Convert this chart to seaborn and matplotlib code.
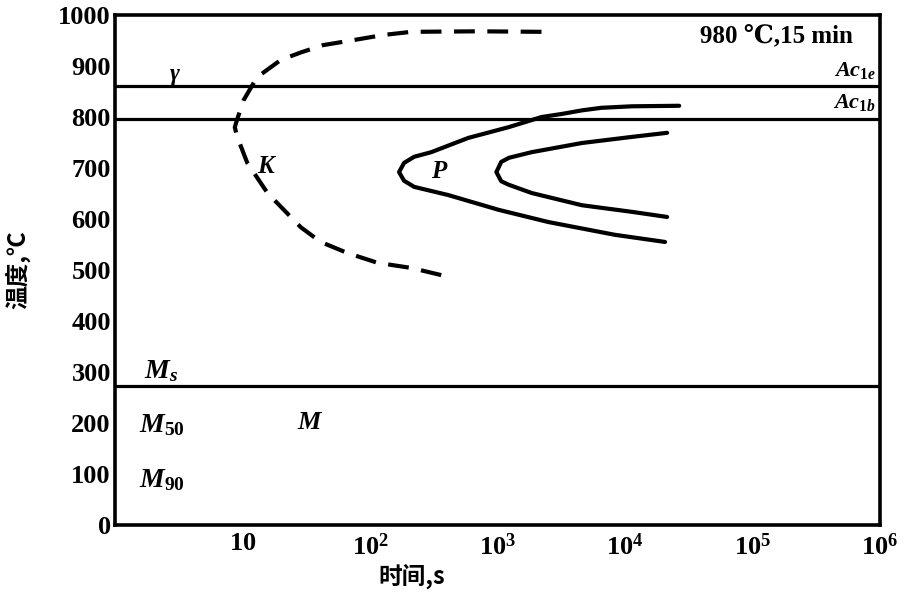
import matplotlib
matplotlib.use("Agg")
import matplotlib.pyplot as plt
import seaborn as sns
import pandas as pd

# ---------------- data ----------------
# dashed K curve (lower branch -> nose -> upper branch)
k_time = [362, 211, 115, 67, 41, 28.6, 15.7, 10.9, 9.1, 8.7, 9.1, 10.2, 13, 20, 29, 43, 75, 129, 211, 700, 2220]
k_temp = [490, 504, 514, 533, 555, 584, 651, 710, 761, 780, 796, 833, 878, 912, 927, 941, 951, 961, 967, 968, 967]

# pearlite start (outer C curve)
ps_time = [26600, 11350, 6500, 4590, 3200, 2220, 1220, 590, 302, 222, 185, 169, 185, 222, 410, 1020, 2510, 8330, 20600]
ps_temp = [822, 821, 818, 813, 806, 800, 780, 759, 731, 722, 710, 692, 675, 663, 647, 618, 594, 569, 555]

# pearlite end (inner C curve)
pe_time = [21400, 11350, 4590, 1850, 1230, 1070, 980, 1070, 1230, 1850, 4590, 11350, 21400]
pe_temp = [769, 761, 749, 731, 720, 712, 692, 674, 667, 651, 627, 614, 604]

# critical temperatures
ac1e = 860
ac1b = 797
ms = 272

x_ticks = [10, 1e2, 1e3, 1e4, 1e5, 1e6]
x_ticklabels = [r"$\mathrm{10}$", r"$\mathrm{10^{2}}$", r"$\mathrm{10^{3}}$",
                r"$\mathrm{10^{4}}$", r"$\mathrm{10^{5}}$", r"$\mathrm{10^{6}}$"]
y_ticks = [0, 100, 200, 300, 400, 500, 600, 700, 800, 900, 1000]
y_ticklabels = ["0", "100", "200", "300", "400", "500", "600", "700", "800", "900", "1000"]

# ---------------- style ----------------
sns.set_style("white")
plt.rcParams["font.family"] = ["Liberation Serif", "DejaVu Serif", "Noto Sans CJK SC"]
plt.rcParams["text.color"] = "black"
plt.rcParams["axes.labelcolor"] = "black"
plt.rcParams["xtick.color"] = "black"
plt.rcParams["ytick.color"] = "black"
plt.rcParams["mathtext.fontset"] = "custom"
plt.rcParams["mathtext.rm"] = "Liberation Serif:bold"
plt.rcParams["mathtext.it"] = "Liberation Serif:italic:bold"
plt.rcParams["mathtext.bf"] = "Liberation Serif:bold"

fig = plt.figure(figsize=(9.21, 6.04), dpi=100)
ax = fig.add_axes([115 / 921, 1 - 525 / 604, 765 / 921, 510 / 604])

lw_curve = 3.0
df_k = pd.DataFrame({"time": k_time, "temp": k_temp})
df_ps = pd.DataFrame({"time": ps_time, "temp": ps_temp})
df_pe = pd.DataFrame({"time": pe_time, "temp": pe_temp})

sns.lineplot(data=df_k, x="time", y="temp", sort=False, estimator=None, ax=ax,
             color="black", lw=lw_curve, linestyle=(0, (5, 3)))
sns.lineplot(data=df_ps, x="time", y="temp", sort=False, estimator=None, ax=ax,
             color="black", lw=lw_curve, solid_capstyle="round", solid_joinstyle="round")
sns.lineplot(data=df_pe, x="time", y="temp", sort=False, estimator=None, ax=ax,
             color="black", lw=lw_curve, solid_capstyle="round", solid_joinstyle="round")

for level in (ac1e, ac1b, ms):
    ax.axhline(level, color="black", lw=2.3)

ax.set_xscale("log")
ax.set_xlim(1, 1e6)
ax.set_ylim(0, 1000)
ax.minorticks_off()
ax.set_xticks(x_ticks)
ax.set_xticklabels(x_ticklabels, fontsize=19)
ax.set_yticks(y_ticks)
ax.set_yticklabels(y_ticklabels, fontsize=19, fontweight="bold")
ax.tick_params(axis="x", length=0, pad=6)
ax.tick_params(axis="y", direction="in", length=8, width=2, pad=3, color="black")

for sp in ax.spines.values():
    sp.set_color("black")
    sp.set_linewidth(2.6)

# axis labels
ax.set_xlabel("时间,s", fontsize=17, fontweight="bold",
              family=["Noto Sans CJK SC", "DejaVu Sans"])
ax.xaxis.set_label_coords(0.388, -0.075)
ax.set_ylabel("温度,℃", fontsize=17, fontweight="bold",
              family=["Noto Sans CJK SC", "DejaVu Sans"])
ax.yaxis.set_label_coords(-0.11, 0.5)

# annotations
ax.text(2.97, 884, "γ", fontsize=17, style="italic", fontweight="bold", ha="center", va="center")
ax.text(2.3, 302, r"$M_s$", fontsize=20, ha="center", va="center")
ax.text(1.55, 196, r"$M_{50}$", fontsize=20, ha="left", va="center")
ax.text(1.55, 88, r"$M_{90}$", fontsize=20, ha="left", va="center")
ax.text(34, 200, r"$M$", fontsize=19, ha="center", va="center")
ax.text(15.7, 702, r"$K$", fontsize=18, ha="center", va="center")
ax.text(350, 692, r"$P$", fontsize=18, ha="center", va="center")
ax.text(10 ** 5.79, 958, "980 ℃,15 min", fontsize=18, fontweight="bold",
        ha="right", va="center")
ax.text(10 ** 5.97, 892, r"$Ac_{1e}$", fontsize=16, ha="right", va="center")
ax.text(10 ** 5.97, 828, r"$Ac_{1b}$", fontsize=16, ha="right", va="center")

fig.savefig("out.png", dpi=100)
